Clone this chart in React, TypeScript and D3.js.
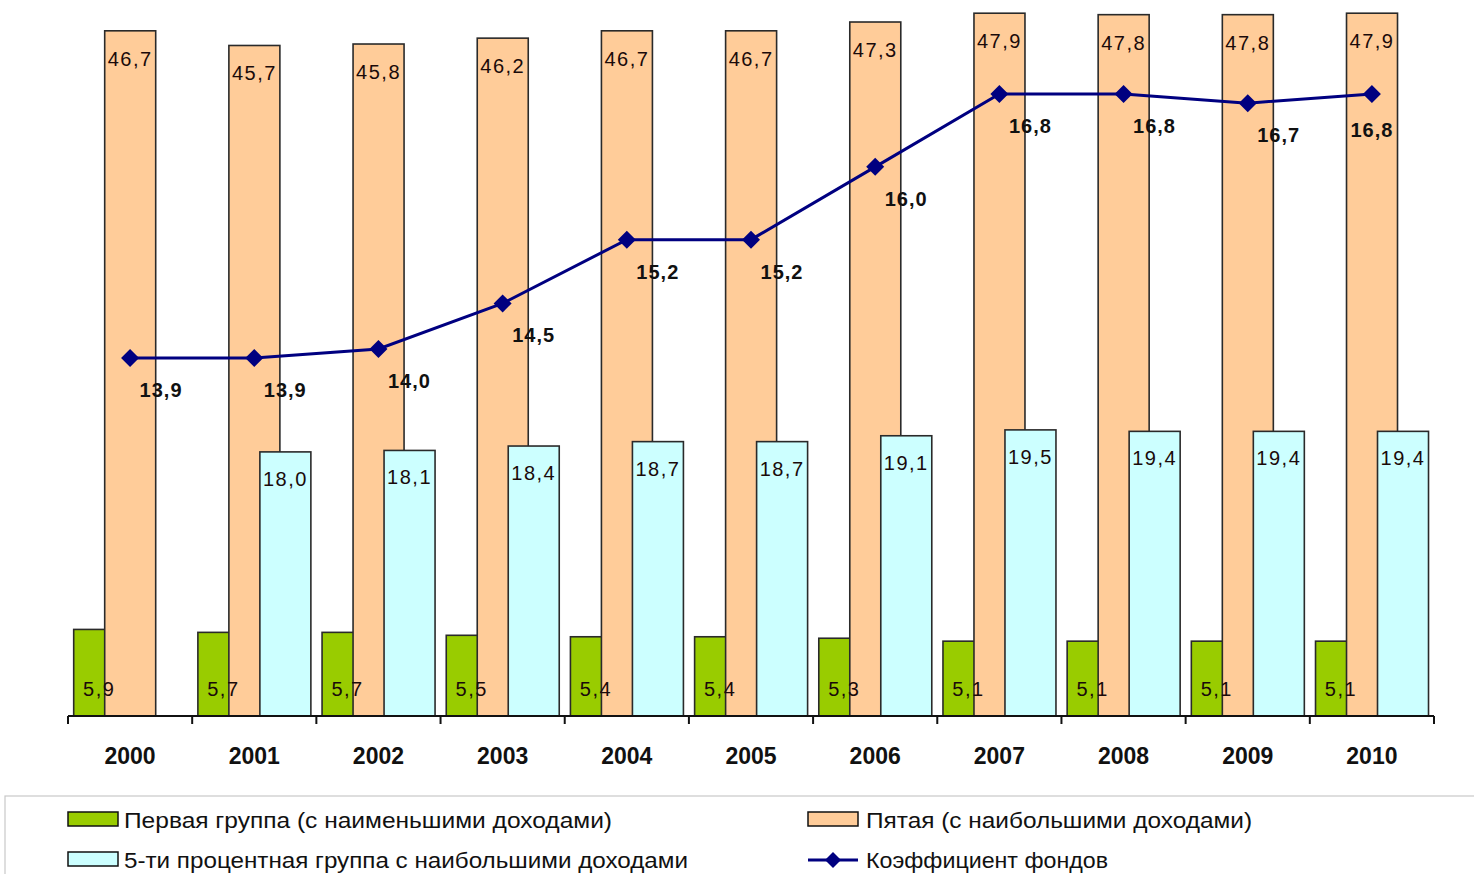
import React from "react";
import * as d3 from "d3";

const years = ["2000", "2001", "2002", "2003", "2004", "2005", "2006", "2007", "2008", "2009", "2010"];
const firstGroup = [5.9, 5.7, 5.7, 5.5, 5.4, 5.4, 5.3, 5.1, 5.1, 5.1, 5.1];
const fifthGroup = [46.7, 45.7, 45.8, 46.2, 46.7, 46.7, 47.3, 47.9, 47.8, 47.8, 47.9];
const top5Group: (number | null)[] = [null, 18.0, 18.1, 18.4, 18.7, 18.7, 19.1, 19.5, 19.4, 19.4, 19.4];
const coefFunds = [13.9, 13.9, 14.0, 14.5, 15.2, 15.2, 16.0, 16.8, 16.8, 16.7, 16.8];

const seriesNames = [
  "Первая группа (с наименьшими доходами)",
  "Пятая (с наибольшими доходами)",
  "5-ти процентная группа с наибольшими доходами",
  "Коэффициент фондов",
];

const W = 1474;
const H = 874;
const baseY = 716;
const FONT = "'Liberation Sans', Arial, sans-serif";
const colors = { green: "#99CC00", orange: "#FFCC99", cyan: "#CCFFFF", navy: "#000080" };

const fmt = (v: number) => v.toFixed(1).replace(".", ",");

export default function App() {
  const x = d3.scaleBand<string>().domain(years).range([68, 1434]).paddingInner(0).paddingOuter(0);
  const y = d3.scaleLinear().domain([0, 48.8]).range([baseY, 0]);
  const y2 = d3.scaleLinear().domain([9.967, 17.833]).range([baseY, 0]);
  const bw = x.bandwidth();
  const pad = bw * 0.0459;
  const barW = bw * 0.4107;
  const step = bw * 0.2496;
  const sx = (yr: string, i: number) => (x(yr) as number) + pad + i * step;

  const lineGen = d3
    .line<number>()
    .x((_, i) => (x(years[i]) as number) + bw / 2)
    .y((d) => y2(d));

  const diamond = (cx: number, cy: number, r: number) =>
    `M${cx},${cy - r} L${cx + r},${cy} L${cx},${cy + r} L${cx - r},${cy} Z`;

  const barStroke = "#2a2a2a";
  const labelColor = "#1a0a0a";

  return (
    <div style={{ position: "absolute", left: 0, top: 0 }}>
      <svg width={W} height={H} style={{ display: "block", background: "#fff" }}>
        {/* green bars */}
        {firstGroup.map((v, i) => (
          <rect key={"g" + i} x={sx(years[i], 0)} y={y(v)} width={barW} height={baseY - y(v)}
            fill={colors.green} stroke={barStroke} strokeWidth={1.6} />
        ))}
        {/* orange bars */}
        {fifthGroup.map((v, i) => (
          <rect key={"o" + i} x={sx(years[i], 1)} y={y(v)} width={barW} height={baseY - y(v)}
            fill={colors.orange} stroke={barStroke} strokeWidth={1.6} />
        ))}
        {/* cyan bars */}
        {top5Group.map((v, i) =>
          v == null ? null : (
            <rect key={"c" + i} x={sx(years[i], 2)} y={y(v)} width={barW} height={baseY - y(v)}
              fill={colors.cyan} stroke={barStroke} strokeWidth={1.6} />
          )
        )}
        {/* bar labels */}
        {firstGroup.map((v, i) => (
          <text key={"gl" + i} x={sx(years[i], 0) + barW / 2} y={baseY - 27} textAnchor="middle"
            dominantBaseline="central" fontFamily={FONT} fontSize={20} letterSpacing={1.5} fill={labelColor}>
            {fmt(v)}
          </text>
        ))}
        {fifthGroup.map((v, i) => (
          <text key={"ol" + i} x={sx(years[i], 1) + barW / 2} y={y(v) + 28} textAnchor="middle"
            dominantBaseline="central" fontFamily={FONT} fontSize={20} letterSpacing={1.5} fill={labelColor}>
            {fmt(v)}
          </text>
        ))}
        {top5Group.map((v, i) =>
          v == null ? null : (
            <text key={"cl" + i} x={sx(years[i], 2) + barW / 2} y={y(v) + 27} textAnchor="middle"
              dominantBaseline="central" fontFamily={FONT} fontSize={20} letterSpacing={1.5} fill={labelColor}>
              {fmt(v)}
            </text>
          )
        )}
        {/* x axis */}
        <line x1={68} x2={1434} y1={baseY} y2={baseY} stroke="#111" strokeWidth={2} />
        {[...years.map((yr) => x(yr) as number), 1434].map((tx, i) => (
          <line key={"t" + i} x1={tx} x2={tx} y1={baseY} y2={baseY + 8} stroke="#111" strokeWidth={2} />
        ))}
        {years.map((yr) => (
          <text key={"yl" + yr} x={(x(yr) as number) + bw / 2} y={756} textAnchor="middle"
            dominantBaseline="central" fontFamily={FONT} fontSize={23} fontWeight="bold" fill="#111">
            {yr}
          </text>
        ))}
        {/* line series */}
        <path d={lineGen(coefFunds) || ""} fill="none" stroke={colors.navy} strokeWidth={3} />
        {coefFunds.map((v, i) => {
          const cx = (x(years[i]) as number) + bw / 2;
          return <path key={"m" + i} d={diamond(cx, y2(v), 9)} fill={colors.navy} />;
        })}
        {coefFunds.map((v, i) => {
          const cx = (x(years[i]) as number) + bw / 2;
          const last = i === coefFunds.length - 1;
          return (
            <text key={"ll" + i} x={cx + (last ? 0 : 31)} y={y2(v) + (last ? 36 : 32)} textAnchor="middle"
              dominantBaseline="central" fontFamily={FONT} fontSize={20} fontWeight="bold" letterSpacing={1} fill="#111">
              {fmt(v)}
            </text>
          );
        })}
        {/* legend */}
        <rect x={5} y={796} width={W} height={100} fill="none" stroke="#c8c8c8" strokeWidth={1.2} />
        <rect x={68} y={812} width={50} height={14} fill={colors.green} stroke="#111" strokeWidth={1.5} />
        <text x={124} y={820} dominantBaseline="central" fontFamily={FONT} fontSize={22} fill="#111"
          textLength={488} lengthAdjust="spacingAndGlyphs">{seriesNames[0]}</text>
        <rect x={68} y={852} width={50} height={14} fill={colors.cyan} stroke="#111" strokeWidth={1.5} />
        <text x={124} y={860} dominantBaseline="central" fontFamily={FONT} fontSize={22} fill="#111"
          textLength={564} lengthAdjust="spacingAndGlyphs">{seriesNames[2]}</text>
        <rect x={808} y={812} width={50} height={14} fill={colors.orange} stroke="#111" strokeWidth={1.5} />
        <text x={866} y={820} dominantBaseline="central" fontFamily={FONT} fontSize={22} fill="#111"
          textLength={386} lengthAdjust="spacingAndGlyphs">{seriesNames[1]}</text>
        <line x1={808} x2={858} y1={860} y2={860} stroke={colors.navy} strokeWidth={3} />
        <path d={diamond(833, 860, 8)} fill={colors.navy} />
        <text x={866} y={860} dominantBaseline="central" fontFamily={FONT} fontSize={22} fill="#111"
          textLength={242} lengthAdjust="spacingAndGlyphs">{seriesNames[3]}</text>
      </svg>
    </div>
  );
}
